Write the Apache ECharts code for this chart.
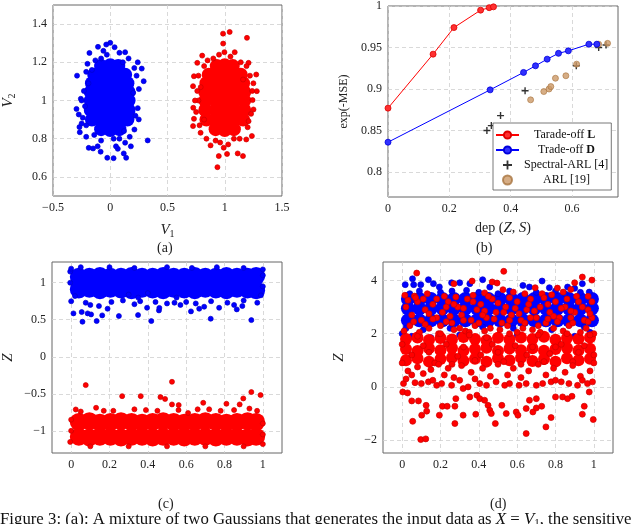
<!DOCTYPE html>
<html>
<head>
<meta charset="utf-8">
<script src="https://cdn.jsdelivr.net/npm/echarts@6/dist/echarts.min.js"></script>
<style>
  html, body { margin: 0; padding: 0; background: #fff; }
  #chart { width: 640px; height: 524px; }
</style>
</head>
<body>
<div id="chart"></div>
<script>
// ---- (a) input data V1 / V2 ----
var aBlueCore = [
  [-0.08,0.85],[0,0.845],[0.08,0.85],
  [-0.16,0.9],[-0.08,0.9],[0,0.9],[0.08,0.9],[0.15,0.9],
  [-0.17,0.95],[-0.08,0.95],[0,0.95],[0.08,0.95],[0.16,0.95],
  [-0.17,1.0],[-0.08,1.0],[0,1.0],[0.08,1.0],[0.16,1.0],
  [-0.17,1.045],[-0.08,1.045],[0,1.045],[0.08,1.045],[0.16,1.045],
  [-0.16,1.09],[-0.08,1.09],[0,1.09],[0.08,1.09],[0.15,1.09],
  [-0.14,1.135],[-0.07,1.135],[0,1.135],[0.07,1.135],[0.13,1.135],
  [-0.08,1.18],[0,1.185],[0.07,1.18]
];
var aBlue = [
  [-0.29,1.13],[-0.295,0.956],[-0.275,0.927],[-0.257,1.009],[-0.269,0.861],[-0.266,0.834],[-0.188,0.752],[-0.15,0.749],
  [-0.084,0.732],[-0.026,0.7],[0.029,0.698],[0.066,0.747],[0.118,0.723],[0.139,0.7],[0.13,0.779],[0.327,0.791],
  [0.249,0.901],[0.292,1.101],[0.275,1.167],[0.24,1.2],[0.13,1.253],[0.038,1.279],[0,1.302],[-0.035,1.293],
  [-0.107,1.281],[-0.182,1.249],[-0.199,1.192],[0.211,0.848],[0.24,0.96],[-0.22,0.97],[-0.24,0.91],[-0.21,0.81],
  [-0.08,0.79],[0.08,0.8],[0.17,0.81],[0.2,1.04],[0.23,1.13],[-0.19,1.09],[-0.16,1.16],[-0.08,1.22],[0.11,1.2],
  [-0.23,1.05],[-0.21,0.87],[-0.14,0.82],[0.03,0.8],[0.12,0.84],[0.22,0.92],[0.25,1.06],[0.21,1.17],[0.16,1.22],
  [-0.03,1.24],[-0.13,1.21],[-0.21,1.15],[-0.25,1.0],[-0.06,1.26],[0.08,1.25],[-0.11,0.76],[0.05,0.76],[-0.25,0.88],[0.18,0.76]
];
var aRedCore = [
  [0.92,0.85],[1.0,0.845],[1.08,0.85],
  [0.84,0.9],[0.92,0.9],[1.0,0.9],[1.08,0.9],[1.16,0.9],
  [0.83,0.95],[0.92,0.95],[1.0,0.95],[1.08,0.95],[1.17,0.95],
  [0.83,1.0],[0.92,1.0],[1.0,1.0],[1.08,1.0],[1.17,1.0],
  [0.83,1.045],[0.92,1.045],[1.0,1.045],[1.08,1.045],[1.17,1.045],
  [0.84,1.09],[0.92,1.09],[1.0,1.09],[1.08,1.09],[1.16,1.09],
  [0.86,1.135],[0.93,1.135],[1.0,1.135],[1.07,1.135],[1.14,1.135],
  [0.93,1.18],[1.0,1.185],[1.07,1.18]
];
var aRed = [
  [0.985,1.35],[1.043,1.359],[1.194,1.328],[0.986,1.298],[0.997,1.253],[1.087,1.253],[0.803,1.235],[1.208,1.197],
  [1.275,1.136],[1.28,1.049],[1.243,1.002],[0.731,1.127],[0.723,1.075],[0.725,0.962],[0.731,0.904],[0.723,0.866],
  [0.789,0.831],[0.876,0.765],[0.948,0.709],[0.936,0.651],[0.991,0.753],[1.113,0.723],[1.159,0.709],[1.188,0.796],
  [1.237,0.814],[1.208,0.892],[1.251,0.953],[0.76,1.197],[0.85,1.21],[0.9,1.22],[1.14,1.2],[1.16,1.11],[0.79,1.07],
  [0.77,1.0],[0.82,0.9],[1.08,0.8],[0.96,0.78],[0.76,1.05],[0.75,0.94],[0.78,0.87],[0.84,0.8],[0.92,0.79],[1.03,0.77],
  [1.13,0.8],[1.2,0.86],[1.23,0.93],[1.24,1.05],[1.22,1.13],[1.19,1.18],[1.05,1.23],[0.95,1.24],[0.82,1.18],[0.77,1.13],
  [1.02,0.72],[1.25,1.09],[0.74,1.0]
];

// ---- (b) privacy / utility trade-off ----
var depL = [0, 0.147, 0.215, 0.302, 0.33, 0.344];
var mseL = [0.877, 0.942, 0.974, 0.995, 0.998, 0.999];
var depD = [0, 0.333, 0.442, 0.481, 0.519, 0.556, 0.588, 0.655, 0.681];
var mseD = [0.836, 0.899, 0.92, 0.928, 0.936, 0.943, 0.946, 0.954, 0.954];
var spectralArl = [[0.3225,0.85],[0.337,0.856],[0.367,0.868],[0.447,0.898],[0.614,0.928],[0.687,0.95],[0.711,0.953]];
var arl = [[0.465,0.887],[0.508,0.897],[0.525,0.9],[0.531,0.903],[0.546,0.913],[0.58,0.916],[0.615,0.93],[0.687,0.954],[0.716,0.955]];

// ---- (c) representation Z, trade-off L ----
var cBlueCore = [
  [0.04,0.91],[0.095,0.92],[0.15,0.9],[0.205,0.92],[0.26,0.91],[0.315,0.9],[0.37,0.92],[0.425,0.91],[0.48,0.9],
  [0.535,0.92],[0.59,0.91],[0.645,0.9],[0.7,0.92],[0.755,0.91],[0.81,0.9],[0.865,0.92],[0.92,0.91],[0.965,0.9],
  [0.04,1.08],[0.095,1.08],[0.15,1.09],[0.205,1.08],[0.26,1.08],[0.315,1.09],[0.37,1.08],[0.425,1.08],[0.48,1.09],
  [0.535,1.08],[0.59,1.08],[0.645,1.09],[0.7,1.08],[0.755,1.08],[0.81,1.09],[0.865,1.08],[0.92,1.08],[0.965,1.09]
];
var cBlue = [
  [0.012,0.586],[0.059,0.473],[0.055,0.604],[0.086,0.586],[0.104,0.572],[0.133,0.482],[0.162,0.559],[0.19,0.649],
  [0.249,0.55],[0.349,0.563],[0.418,0.482],[0.458,0.626],[0.396,0.662],[0.625,0.613],[0.668,0.649],[0.694,0.676],
  [0.772,0.662],[0.728,0.514],[0.94,0.495],[0.864,0.64],[0.893,0.685],[0.971,0.73],[0.145,0.685],[0.076,0.73],
  [0.33,0.71],[0.46,0.66],[0.539,0.73],[0.57,0.7],[0.815,0.73],[0.5,0.72],[0.4,0.86],[0,0.75],[0.02,0.82],[0.1,0.7],
  [0.21,0.74],[0.27,0.76],[0.36,0.75],[0.44,0.74],[0.6,0.74],[0.65,0.72],[0.73,0.75],[0.85,0.7],[0.9,0.76],[0.99,0.83],
  [1.0,0.95],[1.0,1.1],[-0.005,1.0],[-0.005,1.15],[0,1.19],[1.0,1.18],[0.3,0.84],[0.35,0.8],[0.55,0.8],
  [0.05,1.21],[0.2,1.21],[0.33,1.2],[0.5,1.21],[0.63,1.2],[0.76,1.21],[0.9,1.2]
];
var cRedCore = [
  [0.04,-1.08],[0.095,-1.09],[0.15,-1.08],[0.205,-1.08],[0.26,-1.09],[0.315,-1.08],[0.37,-1.08],[0.425,-1.09],[0.48,-1.08],
  [0.535,-1.08],[0.59,-1.09],[0.645,-1.08],[0.7,-1.08],[0.755,-1.09],[0.81,-1.08],[0.865,-1.08],[0.92,-1.09],[0.965,-1.08],
  [0.04,-0.88],[0.095,-0.87],[0.15,-0.89],[0.205,-0.88],[0.26,-0.87],[0.315,-0.88],[0.37,-0.89],[0.425,-0.88],[0.48,-0.87],
  [0.535,-0.88],[0.59,-0.89],[0.645,-0.88],[0.7,-0.87],[0.755,-0.88],[0.81,-0.89],[0.865,-0.88],[0.92,-0.87],[0.965,-0.88]
];
var cRed = [
  [0.076,-0.383],[0.266,-0.532],[0.363,-0.532],[0.466,-0.545],[0.49,-0.57],[0.526,-0.338],[0.526,-0.644],[0.561,-0.653],
  [0.689,-0.622],[0.81,-0.635],[0.879,-0.644],[0.898,-0.563],[0.94,-0.477],[0.988,-0.518],[0.13,-0.689],[0.024,-0.712],
  [0.93,-0.7],[0.22,-0.73],[0.33,-0.71],[0.72,-0.71],[0.61,-0.76],[0,-1.0],[-0.005,-1.15],[0,-0.85],[1.0,-0.9],
  [1.0,-1.05],[1.0,-1.18],[0.05,-0.74],[0.17,-0.73],[0.39,-0.72],[0.45,-0.73],[0.56,-0.72],[0.66,-0.71],[0.78,-0.73],
  [0.85,-0.72],[0.97,-0.73],[0.1,-1.21],[0.3,-1.21],[0.5,-1.21],[0.7,-1.21],[0.9,-1.21]
];

// ---- (d) representation Z, trade-off D ----
var dBlueCore = [
  [0.03,2.5],[0.09,2.5],[0.15,2.5],[0.21,2.5],[0.27,2.5],[0.33,2.5],[0.39,2.5],[0.45,2.5],[0.51,2.5],
  [0.57,2.5],[0.63,2.5],[0.69,2.5],[0.75,2.5],[0.81,2.5],[0.87,2.5],[0.93,2.5],[0.99,2.5],
  [0.03,2.95],[0.09,2.95],[0.15,2.95],[0.21,2.95],[0.27,2.95],[0.33,2.95],[0.39,2.95],[0.45,2.95],[0.51,2.95],
  [0.57,2.95],[0.63,2.95],[0.69,2.95],[0.75,2.95],[0.81,2.95],[0.87,2.95],[0.93,2.95],[0.99,2.95],
  [0.03,3.3],[0.09,3.3],[0.15,3.3],[0.21,3.3],[0.27,3.3],[0.33,3.3],[0.39,3.3],[0.45,3.3],[0.51,3.3],
  [0.57,3.3],[0.63,3.3],[0.69,3.3],[0.75,3.3],[0.81,3.3],[0.87,3.3],[0.93,3.3],[0.99,3.3]
];
var dBlue = [
  [0.016,3.84],[0.054,4.06],[0.06,3.84],[0.097,3.84],[0.137,4.025],[0.163,3.875],[0.194,3.75],[0.258,3.91],[0.3,3.91],
  [0.353,3.875],[0.42,4.025],[0.457,3.75],[0.63,3.81],[0.664,3.75],[0.73,3.975],[0.768,3.725],[0.863,3.75],[0.9,3.7],
  [0.94,3.875],[0.976,3.56],[0.04,3.5],[0.09,3.6],[0.336,3.625],[0.4,3.55],[0.5,3.5],[0.56,3.6],[0.7,3.55],[0.8,3.6],
  [0.85,3.5],[0.93,3.55],[0.2,3.55],[0.26,3.6],[0,2.0],[0.05,1.9],[0.15,1.85],[0.3,1.95],[0.9,1.9],[0.98,2.05],[0.6,1.95],
  [0.02,2.2],[0.11,2.15],[0.25,2.2],[0.42,2.25],[0.58,2.2],[0.78,2.15],[0.95,2.25]
];
var dRedCore = [
  [0.02,1.0],[0.08,1.08],[0.14,0.95],[0.2,1.05],[0.26,1.1],[0.32,0.98],[0.38,1.06],[0.44,0.95],[0.5,1.08],
  [0.56,1.0],[0.62,1.1],[0.68,0.97],[0.74,1.05],[0.8,0.95],[0.86,1.08],[0.92,1.0],[0.98,1.06],
  [0.02,1.42],[0.08,1.35],[0.14,1.45],[0.2,1.38],[0.26,1.46],[0.32,1.36],[0.38,1.42],[0.44,1.47],[0.5,1.35],
  [0.56,1.44],[0.62,1.38],[0.68,1.45],[0.74,1.36],[0.8,1.42],[0.86,1.46],[0.92,1.37],[0.98,1.43],
  [0.02,1.8],[0.08,1.86],[0.14,1.76],[0.2,1.84],[0.26,1.78],[0.32,1.87],[0.38,1.8],[0.44,1.75],[0.5,1.85],
  [0.56,1.78],[0.62,1.86],[0.68,1.8],[0.74,1.88],[0.8,1.77],[0.86,1.84],[0.92,1.8],[0.98,1.86]
];
var dRed = [
  // top outliers
  [0.076,4.275],[0.27,3.875],[0.365,3.975],[0.47,3.94],[0.495,3.9],[0.53,4.34],[0.694,3.725],[0.81,3.71],[0.9,3.91],
  [0.94,4.125],[0.99,4.01],[0.88,3.66],
  // over the blue band
  [0.014,3.44],[0.064,3.41],[0.131,3.5],[0.22,3.4],[0.28,3.375],[0.37,3.44],[0.43,3.53],[0.526,3.65],[0.58,3.56],
  [0.64,3.5],[0.73,3.5],[0.78,3.46],[0.84,3.56],[0.97,3.4],
  [0.02,3.0],[0.05,2.7],[0.08,3.2],[0.1,2.5],[0.12,2.9],[0.16,3.1],[0.18,2.6],[0.21,2.8],[0.24,3.2],[0.26,2.4],
  [0.29,3.0],[0.31,2.7],[0.34,3.3],[0.36,2.5],[0.39,2.9],[0.41,3.1],[0.44,2.6],[0.47,3.3],[0.49,2.8],[0.52,2.4],
  [0.54,3.0],[0.57,2.7],[0.6,3.2],[0.62,2.5],[0.65,2.9],[0.67,3.3],[0.7,2.6],[0.72,3.0],[0.75,2.4],[0.77,2.8],
  [0.8,3.2],[0.82,2.6],[0.85,3.0],[0.87,2.3],[0.9,2.8],[0.92,3.2],[0.95,2.5],[0.97,2.9],[0.99,3.2],
  [0.04,2.3],[0.14,2.2],[0.2,2.3],[0.3,2.2],[0.38,2.3],[0.46,2.2],[0.55,2.3],[0.63,2.2],[0.71,2.3],[0.79,2.2],
  [0.88,2.6],[0.96,2.2],[0.07,3.35],[0.18,3.3],[0.27,3.1],[0.33,2.1],[0.43,2.85],[0.5,3.15],[0.59,2.95],[0.68,2.15],
  [0.74,3.35],[0.83,2.95],[0.91,3.4],[0.99,2.6],
  [0.01,2.1],[0.06,2.45],[0.09,2.05],[0.12,2.35],[0.16,2.55],[0.19,2.0],[0.23,2.45],[0.27,2.15],[0.32,2.5],[0.35,2.05],
  [0.4,2.4],[0.43,2.1],[0.48,2.55],[0.51,2.15],[0.56,2.5],[0.6,2.05],[0.64,2.4],[0.67,2.6],[0.72,2.05],[0.76,2.55],
  [0.81,2.45],[0.84,2.1],[0.89,2.4],[0.93,2.05],[0.97,2.45],[1.0,2.0],
  [0.03,3.25],[0.11,3.3],[0.14,2.75],[0.23,3.0],[0.25,2.65],[0.32,2.95],[0.37,3.2],[0.42,2.7],[0.45,3.4],[0.53,2.8],
  [0.56,3.35],[0.61,2.75],[0.66,3.1],[0.69,2.85],[0.76,3.1],[0.79,2.65],[0.86,3.3],[0.88,2.85],[0.94,3.0],[0.98,2.75],
  // 0.8 .. 2.1
  [0.05,1.2],[0.11,1.55],[0.17,0.9],[0.23,1.6],[0.29,1.15],[0.35,1.95],[0.41,1.2],[0.47,1.6],[0.53,0.95],[0.59,1.55],
  [0.65,1.2],[0.71,1.95],[0.77,1.25],[0.83,1.6],[0.89,0.95],[0.95,1.55],[1.0,1.2],[0,1.6],[0.08,1.9],[0.14,1.3],
  [0.2,2.0],[0.26,0.85],[0.32,1.5],[0.38,1.0],[0.44,1.85],[0.5,1.3],[0.56,2.0],[0.62,0.85],[0.68,1.5],[0.74,0.95],
  [0.8,1.5],[0.86,2.0],[0.92,1.3],[0.98,1.95],
  // 0 .. 1
  [0.007,0.125],[0.02,0.3],[0.03,0.6],[0,0.9],[0.05,0.45],[0.067,0.16],[0.08,0.75],[0.1,0.125],[0.11,0.5],[0.137,0.19],
  [0.15,0.65],[0.16,0.25],[0.18,0.06],[0.19,0.85],[0.206,0.125],[0.22,0.45],[0.24,0.7],[0.258,0.06],[0.27,0.35],
  [0.3,0.25],[0.31,0.8],[0.318,-0.06],[0.344,0],[0.36,0.55],[0.38,0.3],[0.405,0.125],[0.42,0.7],[0.44,0.06],[0.46,0.4],
  [0.49,0.19],[0.5,0.85],[0.535,0.06],[0.55,0.45],[0.56,0.125],[0.58,0.7],[0.61,0.06],[0.62,0.35],[0.647,0.125],
  [0.66,0.6],[0.7,0.06],[0.71,0.85],[0.733,0.125],[0.75,0.45],[0.777,0.19],[0.79,0.7],[0.8,0.25],[0.83,0.19],[0.85,0.55],
  [0.87,0.125],[0.89,0.8],[0.915,0.06],[0.93,0.4],[0.94,0.25],[0.967,0.125],[0.98,0.6],[0.993,0.19],[1.0,0.9],
  // below 0
  [0.003,-0.19],[0.028,-0.225],[0.05,-0.525],[0.085,-0.525],[0.055,-1.29],[0.102,-1.06],[0.128,-0.91],[0.125,-0.69],
  [0.097,-1.975],[0.123,-1.95],[0.194,-1.06],[0.21,-0.725],[0.235,-0.725],[0.275,-1.375],[0.275,-0.725],[0.28,-0.44],
  [0.318,-1.06],[0.384,-1.025],[0.353,-0.375],[0.39,-0.31],[0.405,-0.44],[0.43,-0.5],[0.448,-0.69],[0.457,-0.875],
  [0.465,-1.0],[0.486,-1.375],[0.52,-0.69],[0.543,-1.0],[0.595,-0.94],[0.604,-1.06],[0.647,-1.75],[0.647,-0.81],
  [0.664,-0.5],[0.682,-0.94],[0.7,-0.79],[0.7,-0.44],[0.728,-0.725],[0.75,-1.5],[0.777,-1.15],[0.8,-0.375],
  [0.837,-0.375],[0.863,-0.44],[0.94,-1.025],[0.95,-0.725],[0.976,-0.19],[0.997,-1.225],[0.886,-0.35]
];

// tick values
var ticksAx = [-0.5, 0, 0.5, 1, 1.5];
var ticksAy = [0.6, 0.8, 1, 1.2, 1.4];
var ticksBx = [0, 0.2, 0.4, 0.6];
var ticksBy = [0.8, 0.85, 0.9, 0.95, 1];
var ticksCx = [0, 0.2, 0.4, 0.6, 0.8, 1];
var ticksCy = [-1, -0.5, 0, 0.5, 1];
var ticksDx = [0, 0.2, 0.4, 0.6, 0.8, 1];
var ticksDy = [-2, 0, 2, 4];

var SERIF = 'Liberation Serif';
var chart = echarts.init(document.getElementById('chart'), null, { renderer: 'canvas' });

function fmt(v) {
  return String(v).replace('-', '\u2212');
}
function makeGrid(l, t, w, h) {
  return { left: l, top: t, width: w, height: h, show: true, borderColor: '#666', borderWidth: 1, backgroundColor: 'transparent' };
}
function makeAxis(gi, min, max, ticks, extra) {
  var ax = {
    type: 'value', gridIndex: gi, min: min, max: max,
    axisLine: { show: false },
    axisTick: { show: false, customValues: ticks },
    axisLabel: { customValues: ticks, formatter: fmt, color: '#222', fontFamily: SERIF, fontSize: 12, margin: 6 },
    splitLine: { show: true, lineStyle: { color: '#cfcfcf', type: [4, 3], width: 0.8 } }
  };
  for (var k in extra) ax[k] = extra[k];
  return ax;
}
var nameRich = {
  i: { fontFamily: SERIF, fontStyle: 'italic', fontSize: 15, color: '#222' },
  s: { fontFamily: SERIF, fontSize: 10, color: '#222', padding: [7, 0, 0, 0] },
  r: { fontFamily: SERIF, fontSize: 14, color: '#222' },
  m: { fontFamily: SERIF, fontSize: 12, color: '#222' }
};

function scatter(name, data, xi, color, size, border) {
  return {
    name: name, type: 'scatter', xAxisIndex: xi, yAxisIndex: xi, data: data,
    symbol: 'circle', symbolSize: size, silent: true,
    itemStyle: { color: color, borderColor: border || color, borderWidth: border ? 0.7 : 0, opacity: 1 }
  };
}
var BLUE = '#0000ff', RED = '#ff0000';

var plusPath = 'path://M4,0H6V4H10V6H6V10H4V6H0V4H4Z';
var legendPad = { 'Tarade-off L': 10, 'Trade-off D': 14, 'Spectral-ARL [4]': 0, 'ARL [19]': 19 };

var option = {
  animation: false,
  backgroundColor: '#fff',
  grid: [
    makeGrid(51, 5, 231, 191),
    makeGrid(388, 5, 230, 192),
    makeGrid(51, 262, 231, 191),
    makeGrid(383, 262, 230, 191)
  ],
  xAxis: [
    makeAxis(0, -0.5, 1.5, ticksAx, { name: '{i|V}{s|1}', nameLocation: 'middle', nameGap: 26, nameTextStyle: { rich: nameRich } }),
    makeAxis(1, 0, 0.75, ticksBx, { name: '{r|dep (}{i|Z}{r|, }{i|S}{r|)}', nameLocation: 'middle', nameGap: 24, nameTextStyle: { rich: nameRich } }),
    makeAxis(2, -0.1, 1.1, ticksCx, {}),
    makeAxis(3, -0.1, 1.1, ticksDx, {})
  ],
  yAxis: [
    makeAxis(0, 0.5, 1.5, ticksAy, { name: '{i|V}{s|2}', nameLocation: 'middle', nameGap: 36, nameTextStyle: { rich: nameRich } }),
    makeAxis(1, 0.77, 1, ticksBy, { name: '{m|exp(-MSE)}', nameLocation: 'middle', nameGap: 38, nameTextStyle: { rich: nameRich } }),
    makeAxis(2, -1.3, 1.28, ticksCy, { name: '{i|Z}', nameLocation: 'middle', nameGap: 36, nameTextStyle: { rich: nameRich } }),
    makeAxis(3, -2.48, 4.69, ticksDy, { name: '{i|Z}', nameLocation: 'middle', nameGap: 36, nameTextStyle: { rich: nameRich } })
  ],
  legend: {
    data: ['Tarade-off L', 'Trade-off D', 'Spectral-ARL [4]', 'ARL [19]'],
    orient: 'vertical', left: 493, top: 123,
    padding: [6, 3, 4, 2], itemGap: 3, itemWidth: 23, itemHeight: 9,
    backgroundColor: '#fff', borderColor: '#555', borderWidth: 0.8, borderRadius: 0,
    formatter: function (name) {
      var pad = '{p' + legendPad[name] + '| }';
      if (name === 'Tarade-off L') return pad + '{t|Tarade-off }{b|L}';
      if (name === 'Trade-off D') return pad + '{t|Trade-off }{b|D}';
      return pad + '{t|' + name + '}';
    },
    textStyle: {
      rich: {
        p0: { width: 0 }, p10: { width: 10 }, p14: { width: 14 }, p19: { width: 19 },
        t: { fontFamily: SERIF, fontSize: 12, color: '#111' },
        b: { fontFamily: SERIF, fontSize: 12, fontWeight: 'bold', color: '#111' }
      }
    }
  },
  graphic: [
    { type: 'text', left: 157, top: 241, style: { text: '(a)', font: '14px "Liberation Serif"', fill: '#222' } },
    { type: 'text', left: 476, top: 241, style: { text: '(b)', font: '14px "Liberation Serif"', fill: '#222' } },
    { type: 'text', left: 158, top: 497, style: { text: '(c)', font: '14px "Liberation Serif"', fill: '#222' } },
    { type: 'text', left: 490, top: 497, style: { text: '(d)', font: '14px "Liberation Serif"', fill: '#222' } },
    { type: 'text', left: 0, top: 511, style: {
        text: '{r|Figure 3: (a): A mixture of two Gaussians that generates the input data as }{i|X}{r| = }{i|V}{s|1}{r|, the sensitive}',
        rich: {
          r: { font: '16.8px "Liberation Serif"', fill: '#111' },
          i: { font: 'italic 16.8px "Liberation Serif"', fill: '#111' },
          s: { font: '11px "Liberation Serif"', fill: '#111', padding: [7, 0, 0, 0] }
        }
      } }
  ],
  series: [
    // (a)
    scatter('aBlueCore', aBlueCore, 0, BLUE, 14),
    scatter('aBlue', aBlue, 0, BLUE, 5, '#0000cc'),
    scatter('aRedCore', aRedCore, 0, RED, 14),
    scatter('aRed', aRed, 0, RED, 5, '#cc0000'),
    // (b)
    {
      name: 'Tarade-off L', type: 'line', xAxisIndex: 1, yAxisIndex: 1,
      data: depL.map(function (d, i) { return [d, mseL[i]]; }),
      symbol: 'circle', symbolSize: 6, showAllSymbol: true,
      lineStyle: { color: RED, width: 1 },
      itemStyle: { color: '#ff3030', borderColor: '#dd0000', borderWidth: 0.8 }
    },
    {
      name: 'Trade-off D', type: 'line', xAxisIndex: 1, yAxisIndex: 1,
      data: depD.map(function (d, i) { return [d, mseD[i]]; }),
      symbol: 'circle', symbolSize: 6, showAllSymbol: true,
      lineStyle: { color: BLUE, width: 1 },
      itemStyle: { color: '#3030ff', borderColor: '#0000dd', borderWidth: 0.8 }
    },
    {
      name: 'Spectral-ARL [4]', type: 'scatter', xAxisIndex: 1, yAxisIndex: 1, data: spectralArl,
      symbol: plusPath, symbolSize: 7, itemStyle: { color: '#000' }
    },
    {
      name: 'ARL [19]', type: 'scatter', xAxisIndex: 1, yAxisIndex: 1, data: arl,
      symbol: 'circle', symbolSize: 6, itemStyle: { color: '#cc9966', borderColor: '#a8743f', borderWidth: 0.8 }
    },
    // (c)
    scatter('cBlueCore', cBlueCore, 2, BLUE, 18),
    scatter('cBlue', cBlue, 2, BLUE, 5, '#0000cc'),
    scatter('cRedCore', cRedCore, 2, RED, 18),
    scatter('cRed', cRed, 2, RED, 5, '#cc0000'),
    // (d)
    scatter('dBlueCore', dBlueCore, 3, BLUE, 14),
    scatter('dBlue', dBlue, 3, BLUE, 6, '#0000cc'),
    scatter('dRedCore', dRedCore, 3, RED, 12),
    scatter('dRed', dRed, 3, RED, 6, '#cc0000')
  ]
};
chart.setOption(option);
</script>
</body>
</html>
